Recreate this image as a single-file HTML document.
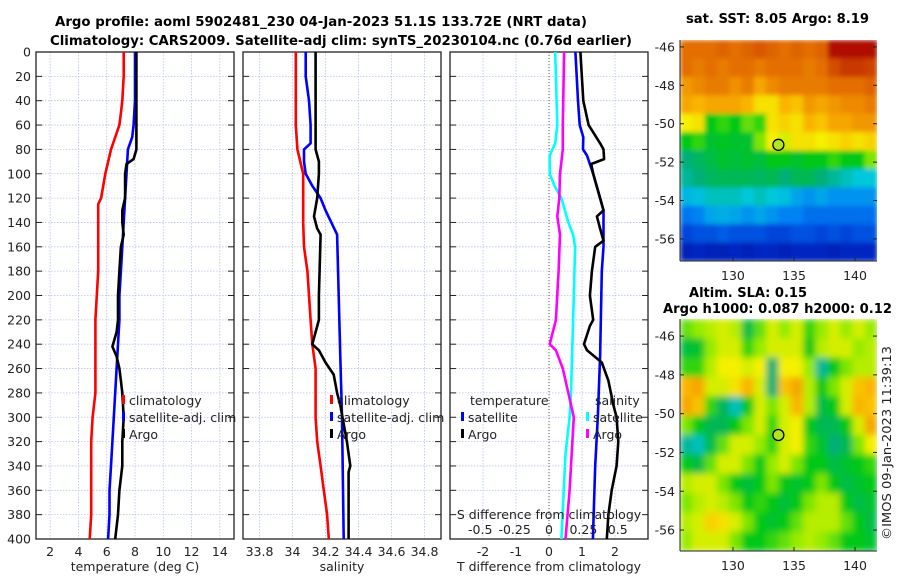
<!DOCTYPE html>
<html><head><meta charset="utf-8"><style>
body{margin:0;background:#fff;width:900px;height:580px;overflow:hidden}
svg{display:block;font-family:"DejaVu Sans","Liberation Sans",sans-serif}
.t{font-size:12.5px;fill:#222}
.b{font-weight:bold;font-size:13px;fill:#000}
</style></head><body>
<svg id="fig" width="900" height="580" viewBox="0 0 900 580" xmlns="http://www.w3.org/2000/svg">
<defs>
<filter id="blurS" x="0" y="0" width="1" height="1"><feGaussianBlur stdDeviation="2.5" edgeMode="duplicate"/></filter>
<filter id="blurL" x="0" y="0" width="1" height="1"><feGaussianBlur stdDeviation="3.5" edgeMode="duplicate"/></filter>
</defs>
<text class="b" x="55" y="26" textLength="532" lengthAdjust="spacingAndGlyphs">Argo profile: aoml 5902481_230 04-Jan-2023 51.1S 133.72E (NRT data)</text>
<text class="b" x="50" y="45" textLength="582" lengthAdjust="spacingAndGlyphs">Climatology: CARS2009. Satellite-adj clim: synTS_20230104.nc (0.76d earlier)</text>
<text class="b" x="686" y="23" textLength="183" lengthAdjust="spacingAndGlyphs">sat. SST: 8.05 Argo: 8.19</text>
<text class="b" x="689" y="297" textLength="118" lengthAdjust="spacingAndGlyphs">Altim. SLA: 0.15</text>
<text class="b" x="663" y="313" textLength="229" lengthAdjust="spacingAndGlyphs">Argo h1000: 0.087 h2000: 0.12</text>
<text class="t" transform="translate(891,540) rotate(-90)" textLength="194" lengthAdjust="spacingAndGlyphs">©IMOS 09-Jan-2023 11:39:13</text>
<g id="g"></g>
</svg>
<script>
// ---- data ----
const depthTicks=[0,20,40,60,80,100,120,140,160,180,200,220,240,260,280,300,320,340,360,380,400];
const tTicks=[2,4,6,8,10,12,14];
const sTicks=[33.8,34,34.2,34.4,34.6,34.8];
const sTickLabels=["33.8","34","34.2","34.4","34.6","34.8"];
const dTTicks=[-2,-1,0,1,2];
const dSTicks=[-0.5,-0.25,0,0.25,0.5];
const dSTickLabels=["-0.5","-0.25","0","0.25","0.5"];

const climTdep=[0,20,40,50,60,80,100,120,125,140,160,180,200,220,240,260,280,300,320,340,360,380,400];
const climT=[7.2,7.2,7.1,7.0,6.9,6.3,5.9,5.6,5.4,5.4,5.4,5.4,5.3,5.2,5.2,5.2,5.2,5.0,4.9,4.9,4.9,4.9,4.8];
const satTdep=[0,20,40,60,70,80,100,120,140,160,180,200,220,240,260,280,300,320,340,360,380,400];
const satT=[8.0,8.0,8.0,7.9,7.8,7.5,7.4,7.3,7.2,7.1,7.0,6.9,6.9,6.8,6.7,6.6,6.5,6.4,6.3,6.2,6.2,6.1];
const argoTdep=[0,20,40,60,80,88,92,100,120,130,140,150,160,180,200,220,230,242,250,260,270,280,300,320,340,360,380,400];
const argoT=[8.1,8.1,8.1,8.1,8.1,7.9,7.4,7.3,7.3,7.1,7.1,7.2,7.0,6.9,6.8,6.8,6.7,6.4,6.7,6.9,7.0,7.1,7.2,7.1,7.1,6.9,6.8,6.6];

const climSdep=[0,20,60,80,100,120,140,160,180,200,220,240,260,280,300,320,340,360,380,400];
const climS=[34.02,34.02,34.02,34.03,34.065,34.065,34.065,34.07,34.09,34.1,34.11,34.12,34.14,34.14,34.14,34.15,34.17,34.19,34.21,34.22];
const satSdep=[0,20,40,60,75,80,90,100,110,120,130,150,200,250,300,400];
const satS=[34.08,34.08,34.1,34.11,34.11,34.07,34.07,34.08,34.12,34.17,34.2,34.27,34.28,34.29,34.3,34.31];
const argoSdep=[0,80,90,100,120,135,145,150,200,220,240,245,255,265,280,290,320,340,345,400];
const argoS=[34.14,34.14,34.16,34.16,34.15,34.13,34.15,34.17,34.16,34.16,34.12,34.16,34.2,34.25,34.27,34.29,34.33,34.35,34.34,34.34];

const dTsatDep=[0,40,60,70,80,85,100,120,130,160,180,250,300,340,400];
const dTsat=[0.8,0.88,0.93,1.04,1.03,1.15,1.34,1.55,1.65,1.65,1.6,1.55,1.48,1.4,1.33];
const dTargoDep=[0,40,60,75,80,88,92,100,120,130,135,145,155,160,180,200,220,225,240,245,255,270,290,300,320,340,360,380,400];
const dTargo=[0.95,1.04,1.2,1.55,1.65,1.67,1.28,1.34,1.55,1.65,1.45,1.55,1.65,1.4,1.3,1.24,1.34,1.24,1.06,1.15,1.6,1.8,1.95,2.05,2.1,2.05,1.9,1.8,1.75];
const dSsatDep=[0,60,75,85,100,110,120,140,150,160,200,280,300,330,400];
const dSsat=[0.045,0.06,0.045,0.005,0.005,0.04,0.09,0.14,0.175,0.19,0.18,0.16,0.15,0.12,0.09];
const dSargoDep=[0,60,80,100,120,135,150,180,220,240,245,260,280,300,320,340,360,400];
const dSargo=[0.11,0.1,0.1,0.08,0.075,0.06,0.08,0.07,0.05,0.005,0.05,0.1,0.14,0.18,0.17,0.16,0.15,0.12];

const latTicks=[-46,-48,-50,-52,-54,-56];
const lonTicks=[130,135,140];
const argoLon=133.72, argoLat=-51.1;
const sstGrid=[
[.8,.8,.8,.82,.8,.82,.84,.82,.8,.82,.8,.82,.97,.97,.97,.97],
[.8,.78,.8,.78,.8,.8,.78,.8,.8,.8,.78,.8,.86,.9,.9,.88],
[.74,.76,.78,.78,.75,.78,.72,.76,.78,.78,.78,.78,.8,.8,.8,.82],
[.72,.7,.72,.72,.72,.7,.64,.64,.7,.68,.74,.72,.74,.76,.76,.78],
[.62,.64,.5,.52,.5,.54,.52,.64,.66,.64,.7,.68,.72,.72,.74,.74],
[.5,.52,.48,.49,.48,.48,.55,.62,.6,.64,.64,.62,.64,.66,.64,.66],
[.42,.44,.46,.48,.47,.48,.47,.5,.5,.48,.5,.5,.52,.5,.5,.55],
[.4,.42,.44,.45,.45,.45,.44,.45,.42,.45,.45,.42,.4,.38,.36,.36],
[.34,.35,.38,.38,.38,.36,.38,.36,.35,.32,.3,.32,.3,.3,.3,.3],
[.26,.28,.32,.33,.32,.3,.32,.3,.28,.28,.25,.25,.25,.25,.25,.25],
[.18,.2,.2,.22,.2,.2,.2,.18,.18,.2,.2,.18,.2,.18,.2,.2],
[.1,.12,.1,.1,.12,.1,.12,.12,.1,.12,.12,.12,.1,.12,.12,.12]];
const slaGrid=[
[.54,.56,.58,.6,.58,.46,.54,.6,.56,.6,.52,.56,.6,.56,.6,.56],
[.47,.48,.56,.6,.6,.52,.56,.6,.6,.6,.5,.58,.6,.6,.56,.58],
[.52,.52,.58,.62,.62,.6,.62,.42,.62,.62,.56,.4,.5,.55,.58,.58],
[.7,.72,.6,.6,.64,.7,.6,.42,.68,.72,.58,.5,.55,.6,.68,.7],
[.72,.68,.52,.44,.38,.5,.6,.55,.6,.7,.58,.46,.5,.6,.7,.68],
[.55,.5,.45,.45,.5,.55,.6,.52,.6,.62,.5,.45,.45,.5,.6,.72],
[.4,.38,.46,.54,.6,.6,.56,.52,.6,.62,.52,.48,.42,.45,.55,.62],
[.5,.46,.54,.6,.6,.55,.5,.56,.6,.55,.5,.5,.46,.48,.5,.52],
[.58,.6,.6,.55,.5,.47,.5,.55,.5,.48,.5,.55,.5,.46,.48,.5],
[.55,.58,.6,.58,.55,.5,.52,.5,.47,.5,.55,.58,.58,.5,.46,.48],
[.58,.6,.66,.64,.6,.55,.5,.48,.5,.54,.58,.58,.58,.54,.5,.46],
[.56,.6,.6,.6,.55,.5,.5,.52,.54,.56,.58,.56,.54,.5,.5,.48]];

// ---- drawing ----
const NS="http://www.w3.org/2000/svg", G=document.getElementById('g');
function mk(tag,at,parent){const e=document.createElementNS(NS,tag);for(const k in at)e.setAttribute(k,at[k]);(parent||G).appendChild(e);return e;}
const Y0=52,Y1=539;
const yD=d=>Y0+(d/400)*(Y1-Y0);
function lin(a,b,p,q){return v=>p+(v-a)/(b-a)*(q-p);}
const panels=[
 {x0:36,x1:234,sx:lin(1,15,36,234),ticks:tTicks,labels:tTicks.map(String),title:"temperature (deg C)",name:"temperature-panel"},
 {x0:243,x1:441,sx:lin(33.7,34.9,243,441),ticks:sTicks,labels:sTickLabels,title:"salinity",name:"salinity-panel"},
 {x0:450,x1:648,sx:lin(-3,3,450,648),ticks:dTTicks,labels:dTTicks.map(String),title:"T difference from climatology",name:"difference-panel"}];
panels.forEach((P,i)=>{
  const g=mk('g',{});
  
  
  depthTicks.forEach(d=>{const y=yD(d);
    const l=mk('line',{x1:P.x0,x2:P.x1,y1:y,y2:y,stroke:'#b8c4e8','stroke-width':0.8,'stroke-dasharray':'1.5,1.5'},g);
    
    mk('line',{x1:P.x0,x2:P.x0+6,y1:y,y2:y,stroke:'#222'},g);mk('line',{x1:P.x1-6,x2:P.x1,y1:y,y2:y,stroke:'#222'},g);
  });
  P.ticks.forEach((t,j)=>{const x=P.sx(t);
    mk('line',{x1:x,x2:x,y1:Y0,y2:Y1,stroke:'#b8c4e8','stroke-width':0.8,'stroke-dasharray':'1.5,1.5'},g);
    const tx=mk('text',{x:x,y:Y1+17,'text-anchor':'middle',class:'t'},g);tx.textContent=P.labels[j];
    
  });
  const at=mk('text',{x:(P.x0+P.x1)/2,y:571,'text-anchor':'middle',class:'t'},g);at.textContent=P.title;
  
  const fr=mk('rect',{x:P.x0,y:Y0,width:P.x1-P.x0,height:Y1-Y0,fill:'none',stroke:'#222','stroke-width':1.3},g);
  
});
depthTicks.forEach(d=>{const t=mk('text',{x:31,y:yD(d)+4.5,'text-anchor':'end',class:'t'});t.textContent=d;
  });
mk('line',{x1:panels[2].sx(0),x2:panels[2].sx(0),y1:Y0,y2:Y1,stroke:'#555','stroke-dasharray':'1,2'});
const sxS=lin(-0.72,0.72,450,648);
function series(sx,deps,vals,col,name){
  const pts=deps.map((d,i)=>sx(vals[i]).toFixed(1)+','+yD(d).toFixed(1)).join(' ');
  const p=mk('polyline',{points:pts,fill:'none',stroke:col,'stroke-width':2.6,'stroke-linejoin':'round'});
  
}
series(panels[0].sx,climTdep,climT,'#ff0000','climatology-temperature-line');
series(panels[0].sx,satTdep,satT,'#0000ff','satellite-temperature-line');
series(panels[0].sx,argoTdep,argoT,'#000','argo-temperature-line');
series(panels[1].sx,climSdep,climS,'#ff0000','climatology-salinity-line');
series(panels[1].sx,satSdep,satS,'#0000ff','satellite-salinity-line');
series(panels[1].sx,argoSdep,argoS,'#000','argo-salinity-line');
series(sxS,dSsatDep,dSsat,'#00ffff','satellite-salinity-diff-line');
series(sxS,dSargoDep,dSargo,'#ff00ff','argo-salinity-diff-line');
series(panels[2].sx,dTsatDep,dTsat,'#0000ff','satellite-temperature-diff-line');
series(panels[2].sx,dTargoDep,dTargo,'#000','argo-temperature-diff-line');
const sdt=mk('text',{x:549,y:519,'text-anchor':'middle',class:'t'});sdt.textContent='S difference from climatology';

dSTicks.forEach((v,j)=>{const t=mk('text',{x:sxS(v),y:534,'text-anchor':'middle',class:'t'});t.textContent=dSTickLabels[j];
  });
function leg(x,y,col,label,name){
  const g=mk('g',{});
  if(col)mk('rect',{x:x,y:y-10,width:3,height:9,fill:col},g);
  const t=mk('text',{x:x+7,y:y,class:'t'},g);t.textContent=label;
}
leg(122,405,'#ff0000','climatology','legend-climatology');
leg(122,422,'#0000ff','satellite-adj. clim','legend-satellite-adj');
leg(122,439,'#000','Argo','legend-argo');
leg(330,405,'#ff0000','climatology','legend-climatology-s');
leg(330,422,'#0000ff','satellite-adj. clim','legend-satellite-adj-s');
leg(330,439,'#000','Argo','legend-argo-s');
leg(463,405,null,'temperature','legend-temperature-header');
leg(461,422,'#0000ff','satellite','legend-t-satellite');
leg(461,439,'#000','Argo','legend-t-argo');
leg(588,405,null,'salinity','legend-salinity-header');
leg(586,422,'#00ffff','satellite','legend-s-satellite');
leg(586,439,'#ff00ff','Argo','legend-s-argo');
// colormap
const stops=[[0,0,0,130],[0.15,0,50,210],[0.28,0,130,245],[0.36,0,200,220],[0.42,0,175,120],[0.5,0,200,20],[0.56,150,235,0],[0.62,245,240,0],[0.7,250,180,0],[0.8,228,110,0],[0.9,200,55,0],[1,165,0,0]];
function cmap(v){for(let i=1;i<stops.length;i++){if(v<=stops[i][0]){const a=stops[i-1],b=stops[i],f=(v-a[0])/(b[0]-a[0]);
  return 'rgb('+[1,2,3].map(k=>Math.round(a[k]+(b[k]-a[k])*f)).join(',')+')';}}return 'rgb(165,0,0)';}
function map(grid,x0,x1,y0,y1,latTop,latBot,name,filt,clipId){
  const g=mk('g',{});
  const sx=lin(125.66,141.8,x0,x1), sy=lin(latTop,latBot,y0,y1);
  const cp=mk('clipPath',{id:clipId},document.querySelector('defs'));mk('rect',{x:x0,y:y0,width:x1-x0,height:y1-y0},cp);
  const cg=mk('g',{'clip-path':'url(#'+clipId+')'},g);
  const fg=mk('g',{filter:'url(#'+filt+')'},cg);
  const R=grid.length,C=grid[0].length,cw=(x1-x0)/C,ch=(y1-y0)/R;
  grid.forEach((row,r)=>row.forEach((v,c)=>{
    const e=mk('rect',{x:x0+c*cw,y:y0+r*ch,width:cw+0.6,height:ch+0.6,fill:cmap(v)},fg);
    }));
  mk('line',{x1:x0,x2:x0,y1:y0,y2:y1,stroke:'#222'},g);mk('line',{x1:x0,x2:x1,y1:y1,y2:y1,stroke:'#222'},g);
  latTicks.forEach(l=>{const y=sy(l);mk('line',{x1:x0,x2:x0+4,y1:y,y2:y,stroke:'#222'},g);mk('line',{x1:x1-4,x2:x1,y1:y,y2:y,stroke:'#222'},g);
    const t=mk('text',{x:x0-5,y:y+4.5,'text-anchor':'end',class:'t'},g);t.textContent=l;
    });
  lonTicks.forEach(l=>{const x=sx(l);mk('line',{x1:x,x2:x,y1:y1-4,y2:y1,stroke:'#222'},g);
    const t=mk('text',{x:x,y:y1+19,'text-anchor':'middle',class:'t'},g);t.textContent=l;
    });
  const c=mk('circle',{cx:sx(argoLon),cy:sy(argoLat),r:5.5,fill:'#b5e61d',stroke:'#000','stroke-width':1.3},g);
  
}
map(sstGrid,680,877,40,261,-45.64,-57.15,'sst-map','blurS','clipSST');
map(slaGrid,680,877,319,551,-45.12,-57.08,'sla-map','blurL','clipSLA');
</script>
</body></html>
